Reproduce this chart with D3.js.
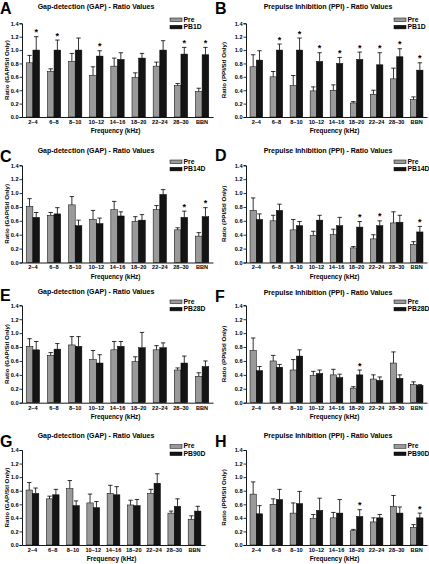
<!DOCTYPE html>
<html><head><meta charset="utf-8">
<script src="https://cdn.jsdelivr.net/npm/d3@7"></script>
<style>
html,body{margin:0;padding:0;background:#fff;}
svg{display:block;font-family:"Liberation Sans",Arial,sans-serif;font-weight:bold;}
</style></head>
<body>
<svg id="chart" width="429" height="564"></svg>
<script>
// ---------- DATA ----------
const categories = ["2–4","6–8","8–10","10–12","14–16","18–20","22–24","28–30","BBN"];
const yTicks = [0,0.2,0.4,0.6,0.8,1.0,1.2,1.4];

// Baseline (Pre) values
const gapPre    = [0.81,0.68,0.83,0.62,0.76,0.59,0.76,0.47,0.38];
const gapPreSem = [0.11,0.04,0.12,0.13,0.12,0.07,0.06,0.03,0.05];
const ppiPre    = [0.75,0.60,0.47,0.39,0.40,0.21,0.34,0.57,0.26];
const ppiPreSem = [0.18,0.08,0.15,0.06,0.08,0.02,0.06,0.16,0.04];

// Post-blast values
const gapPB1D     = [1.00,1.00,1.00,0.91,0.86,0.88,1.00,0.94,0.93];
const gapPB1DSem  = [0.20,0.15,0.18,0.08,0.10,0.07,0.14,0.10,0.11];
const ppiPB1D     = [0.85,1.00,1.00,0.83,0.80,0.86,0.78,0.90,0.70];
const ppiPB1DSem  = [0.14,0.09,0.18,0.13,0.09,0.11,0.18,0.12,0.11];
const gapPB14D    = [0.65,0.70,0.53,0.56,0.67,0.61,0.98,0.65,0.66];
const gapPB14DSem = [0.07,0.09,0.08,0.08,0.06,0.08,0.07,0.09,0.13];
const ppiPB14D    = [0.62,0.75,0.53,0.61,0.53,0.51,0.53,0.58,0.44];
const ppiPB14DSem = [0.08,0.09,0.06,0.07,0.12,0.08,0.07,0.10,0.08];
const gapPB28D    = [0.76,0.77,0.81,0.57,0.81,0.79,0.79,0.57,0.52];
const gapPB28DSem = [0.12,0.08,0.14,0.12,0.07,0.22,0.07,0.10,0.08];
const ppiPB28D    = [0.46,0.51,0.67,0.42,0.36,0.40,0.32,0.35,0.25];
const ppiPB28DSem = [0.06,0.04,0.09,0.05,0.05,0.07,0.05,0.05,0.01];
const gapPB90D    = [0.76,0.74,0.58,0.55,0.74,0.58,0.91,0.57,0.50];
const gapPB90DSem = [0.08,0.08,0.07,0.09,0.12,0.09,0.14,0.11,0.07];
const ppiPB90D    = [0.46,0.67,0.61,0.51,0.47,0.42,0.40,0.47,0.40];
const ppiPB90DSem = [0.12,0.15,0.18,0.18,0.20,0.10,0.05,0.09,0.07];

// Significance markers (category indices with *)
const starsA = [0,1,3,7,8];
const starsB = [1,2,3,4,5,6,7,8];
const starsC = [7,8];
const starsD = [5,6,8];
const starsE = [];
const starsF = [5];
const starsG = [];
const starsH = [5,8];

const gapTitle = "Gap-detection (GAP) - Ratio Values";
const ppiTitle = "Prepulse Inhibition (PPI) - Ratio Values";
const gapYLabel = "Ratio (GAP/Stl Only)";
const ppiYLabel = "Ratio (PPI/Stl Only)";
const xLabel = "Frequency (kHz)";

// ---------- PANELS ----------
const panels = [
  {letter:"A", title:gapTitle, ylab:gapYLabel, pre:gapPre, preSem:gapPreSem, post:gapPB1D,  postSem:gapPB1DSem,  name:"PB1D",  stars:starsA, x0:22,  x1:213, yTop:23.3,  yBot:117,   titleY:8.8,   letterY:13.5},
  {letter:"B", title:ppiTitle, ylab:ppiYLabel, pre:ppiPre, preSem:ppiPreSem, post:ppiPB1D,  postSem:ppiPB1DSem,  name:"PB1D",  stars:starsB, x0:246, x1:427, yTop:23.3,  yBot:117,   titleY:8.8,   letterY:14},
  {letter:"C", title:gapTitle, ylab:gapYLabel, pre:gapPre, preSem:gapPreSem, post:gapPB14D, postSem:gapPB14DSem, name:"PB14D", stars:starsC, x0:22,  x1:213, yTop:165.3, yBot:262.5, titleY:152.6, letterY:161.5},
  {letter:"D", title:ppiTitle, ylab:ppiYLabel, pre:ppiPre, preSem:ppiPreSem, post:ppiPB14D, postSem:ppiPB14DSem, name:"PB14D", stars:starsD, x0:246, x1:427, yTop:165.3, yBot:262.5, titleY:152.6, letterY:161},
  {letter:"E", title:gapTitle, ylab:gapYLabel, pre:gapPre, preSem:gapPreSem, post:gapPB28D, postSem:gapPB28DSem, name:"PB28D", stars:starsE, x0:22,  x1:213, yTop:305.3, yBot:402.7, titleY:293.5, letterY:300.5},
  {letter:"F", title:ppiTitle, ylab:ppiYLabel, pre:ppiPre, preSem:ppiPreSem, post:ppiPB28D, postSem:ppiPB28DSem, name:"PB28D", stars:starsF, x0:246, x1:427, yTop:305.3, yBot:402.7, titleY:295,   letterY:302},
  {letter:"G", title:gapTitle, ylab:gapYLabel, pre:gapPre, preSem:gapPreSem, post:gapPB90D, postSem:gapPB90DSem, name:"PB90D", stars:starsG, x0:22,  x1:205, yTop:450,   yBot:545,   titleY:437.5, letterY:446.5},
  {letter:"H", title:ppiTitle, ylab:ppiYLabel, pre:ppiPre, preSem:ppiPreSem, post:ppiPB90D, postSem:ppiPB90DSem, name:"PB90D", stars:starsH, x0:246, x1:427, yTop:450,   yBot:545,   titleY:437.5, letterY:446.5}
];

const svg = d3.select("#chart");
const GRAY = "#9a9a9a", BLACK = "#141414";

panels.forEach(p => {
  const g = svg.append("g");
  const left = p.x0 < 200;
  const x = d3.scaleBand().domain(categories).range([p.x0, p.x1]).paddingInner(0.37).paddingOuter(0.2);
  const xs = d3.scaleBand().domain(["pre","post"]).range([0, x.bandwidth()]).padding(0);
  const y = d3.scaleLinear().domain([0,1.4]).range([p.yBot, p.yTop]);

  const rows = categories.map((c,i) => ({c, i, pre:p.pre[i], preSem:p.preSem[i], post:p.post[i], postSem:p.postSem[i]}));

  // bars
  const grp = g.selectAll(".grp").data(rows).enter().append("g")
    .attr("transform", d => `translate(${x(d.c)},0)`);
  [["pre",GRAY],["post",BLACK]].forEach(([k,col]) => {
    grp.append("rect")
      .attr("x", xs(k)).attr("width", xs.bandwidth())
      .attr("y", d => y(d[k])).attr("height", d => y(0) - y(d[k]))
      .attr("fill", col).attr("stroke", "#000").attr("stroke-width", 0.5);
    // error bars (upper only)
    const cx = xs(k) + xs.bandwidth()/2;
    grp.append("line")
      .attr("x1", cx).attr("x2", cx)
      .attr("y1", d => y(d[k])).attr("y2", d => y(d[k] + d[k+"Sem"]))
      .attr("stroke", "#000").attr("stroke-width", 0.8);
    grp.append("line")
      .attr("x1", cx - 2.2).attr("x2", cx + 2.2)
      .attr("y1", d => y(d[k] + d[k+"Sem"])).attr("y2", d => y(d[k] + d[k+"Sem"]))
      .attr("stroke", "#000").attr("stroke-width", 0.8);
  });
  // stars
  grp.filter(d => p.stars.includes(d.i)).append("text")
    .attr("x", xs("post") + xs.bandwidth()/2)
    .attr("y", d => y(d.post + d.postSem) - 1.5)
    .attr("text-anchor", "middle")
    .attr("font-size", 9).attr("fill", "#000")
    .text("*");

  // y axis
  const ya = g.append("g").attr("transform", `translate(${p.x0},0)`)
    .call(d3.axisLeft(y).tickValues(yTicks).tickFormat(d3.format(".1f")).tickSize(2.5).tickPadding(1));
  ya.select(".domain").attr("stroke", "#000").attr("stroke-width", 0.9);
  ya.selectAll(".tick line").attr("stroke", "#000").attr("stroke-width", 0.8);
  ya.selectAll("text").attr("font-size", 5.6).attr("font-family", "Liberation Sans, Arial, sans-serif").attr("font-weight", "bold").attr("fill", "#000");

  // x axis
  const xa = g.append("g").attr("transform", `translate(0,${p.yBot})`)
    .call(d3.axisBottom(x).tickSize(0).tickPadding(3));
  xa.select(".domain").attr("stroke", "#000").attr("stroke-width", 0.9);
  xa.selectAll("text").attr("font-size", 5.6).attr("font-family", "Liberation Sans, Arial, sans-serif").attr("font-weight", "bold").attr("fill", "#000");

  // x label
  g.append("text").attr("x", (p.x0 + p.x1)/2 - 2).attr("y", p.yBot + 16)
    .attr("text-anchor", "middle").attr("font-size", 6.4).text(xLabel);
  // y label
  const ylx = left ? 7.5 : 224.5;
  g.append("text").attr("transform", `translate(${ylx},${(p.yTop + p.yBot)/2}) rotate(-90)`)
    .attr("text-anchor", "middle").attr("dominant-baseline", "middle").attr("font-size", 6.2).text(p.ylab);
  // title
  const tcx = left ? 96 : 328;
  g.append("text").attr("x", tcx).attr("y", p.titleY)
    .attr("text-anchor", "middle").attr("font-size", 7).text(p.title);
  // panel letter
  g.append("text").attr("x", left ? 0 : 215).attr("y", p.letterY)
    .attr("font-size", 16).text(p.letter);

  // legend
  const lx = left ? 170 : 394;
  const leg = [["Pre", GRAY], [p.name, BLACK]];
  leg.forEach(([t,col], j) => {
    const ly = p.yTop - 3.5 + j*7.3;
    g.append("rect").attr("x", lx).attr("y", ly - 1.8).attr("width", 12).attr("height", 3.6)
      .attr("fill", col).attr("stroke", "#000").attr("stroke-width", 0.5);
    g.append("text").attr("x", lx + 13.5).attr("y", ly).attr("dominant-baseline", "middle")
      .attr("font-size", 6.8).text(t);
  });
});
</script>
</body></html>
